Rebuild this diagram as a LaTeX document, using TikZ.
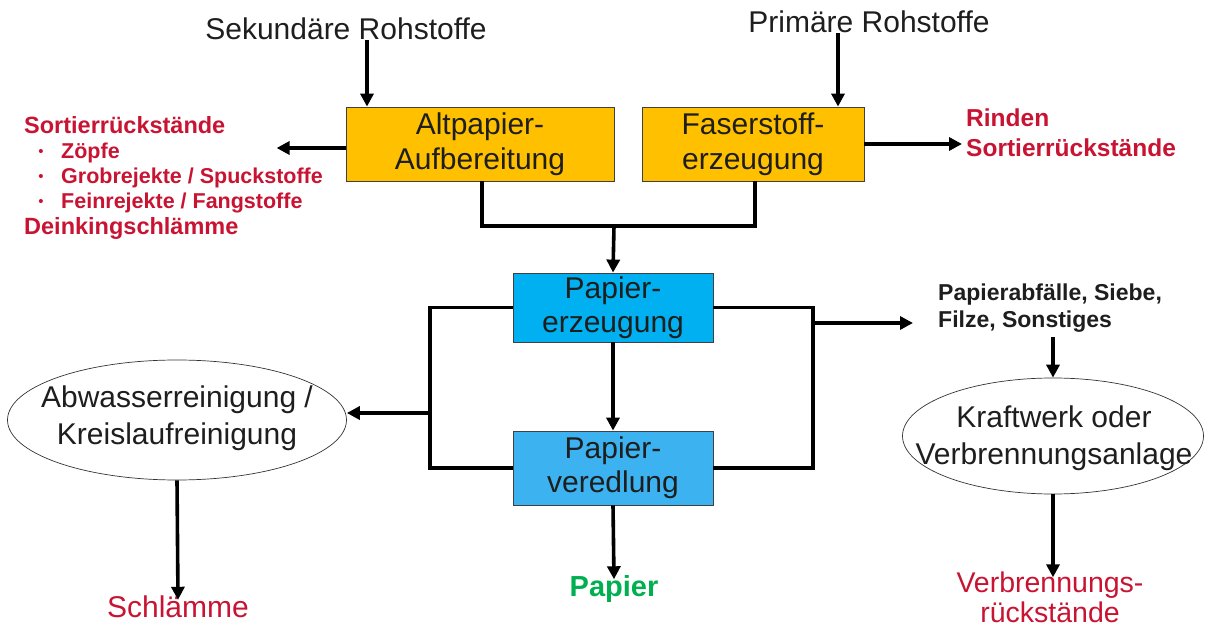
\documentclass[tikz,border=0pt]{standalone}
\usepackage{fontspec}
\setmainfont{Liberation Sans}
\usetikzlibrary{arrows.meta,shapes.geometric}
\definecolor{boxorange}{RGB}{255,192,0}
\definecolor{boxblue}{RGB}{0,176,240}
\definecolor{boxblueb}{RGB}{60,178,240}
\definecolor{redtxt}{RGB}{200,20,50}
\definecolor{greentxt}{RGB}{0,176,80}
\definecolor{txt}{RGB}{30,30,30}
\begin{document}
\begin{tikzpicture}[x=1pt,y=-1pt,
  conn/.style={line width=3.6pt},
  arr/.style={conn,-{Triangle[length=13pt,width=13pt]}},
  procbox/.style={draw=black!75,line width=0.8pt,align=center,inner sep=0pt,text=txt,
    font=\fontsize{30}{35}\selectfont},
  ybox/.style={procbox,fill=boxorange,minimum height=74pt},
  bbox/.style={procbox,fill=boxblue,minimum width=200pt,font=\fontsize{30}{34}\selectfont},
  ell/.style={ellipse,draw=black!80,line width=0.7pt,inner sep=0pt},
  elltext/.style={align=center,text=txt,inner sep=0pt,font=\fontsize{30}{37}\selectfont},
  big/.style={font=\fontsize{30}{34}\selectfont,text=txt,inner sep=0pt},
  redbold/.style={font=\fontsize{23.5}{28}\selectfont\bfseries,text=redtxt,inner sep=0pt,anchor=west},
  redsub/.style={font=\fontsize{21.5}{25}\selectfont\bfseries,text=redtxt,inner sep=0pt,anchor=west},
  dot/.style={font=\fontsize{15}{16}\selectfont,text=redtxt,inner sep=0pt}
]
\useasboundingbox (0,0) rectangle (1208,628);

% top sources
\node[big] (sek) at (346,29) {Sekundäre Rohstoffe};
\node[big] (prim) at (869,22) {Primäre Rohstoffe};

% orange boxes
\node[ybox,minimum width=268pt] (alt) at (480,144) {Altpapier-\\Aufbereitung};
\node[ybox,minimum width=222pt] (fas) at (753,144) {Faserstoff-\\erzeugung};

% blue boxes
\node[bbox,minimum height=69pt] (perz) at (613,307.5) {Papier-\\erzeugung};
\node[bbox,fill=boxblueb,minimum height=74pt] (pver) at (613,468) {Papier-\\veredlung};

% ellipses
\node[ell,minimum width=339pt,minimum height=120pt] (abw) at (177,420) {};
\node[elltext] (abwt) at (177,418) {Abwasserreinigung /\\Kreislaufreinigung};
\node[ell,minimum width=301pt,minimum height=116pt] (kw) at (1053,436) {};
\node[elltext] (kwt) at (1054,438) {Kraftwerk oder\\Verbrennungsanlage};

% left red list
\node[redbold] (sr1) at (24,125) {Sortierrückstände};
\node[dot] (b1) at (41,153) {\textbullet};
\node[redsub] (zo) at (61,153) {Zöpfe};
\node[dot] (b2) at (41,178) {\textbullet};
\node[redsub] (gr) at (61,178) {Grobrejekte / Spuckstoffe};
\node[dot] (b3) at (41,203) {\textbullet};
\node[redsub] (fe) at (61,203) {Feinrejekte / Fangstoffe};
\node[redbold] (de) at (24,228) {Deinkingschlämme};

% right red text
\node[redbold,align=left,font=\fontsize{24.5}{30}\selectfont\bfseries] (rs) at (966,133) {Rinden\\Sortierrückstände};

% waste text
\node[font=\fontsize{23}{27}\selectfont\bfseries,text=txt,align=left,anchor=west,inner sep=0pt] (pa) at (938,308) {Papierabfälle, Siebe,\\Filze, Sonstiges};

% outputs
\node[font=\fontsize{29}{30}\selectfont\bfseries,text=greentxt,inner sep=0pt] (pap) at (614,589) {Papier};
\node[font=\fontsize{30}{31}\selectfont,text=redtxt,inner sep=0pt] (schl) at (178,607) {Schlämme};
\node[font=\fontsize{28.5}{30}\selectfont,text=redtxt,inner sep=0pt,align=center] (vr) at (1050,597) {Verbrennungs-\\rückstände};

% connectors
\draw[arr] ([xshift=21pt]sek.south) -- ([xshift=21pt]sek.south |- alt.north);
\draw[arr] ([xshift=-31pt]prim.south) -- ([xshift=-31pt]prim.south |- fas.north);
\draw[arr] ([yshift=-4pt]alt.west) -- ++(-69,0);
\draw[arr] (fas.east) -- ([xshift=-4pt]fas.east -| rs.west);

\coordinate (j) at (614,226);
\draw[conn] ([xshift=2pt]alt.south) |- (j) -| ([xshift=2pt]fas.south);
\draw[conn] ([xshift=2pt]alt.south |- j) -- ([xshift=2pt]fas.south |- j);
\draw[arr] (j) -- (perz.north);

\draw[arr] (perz.south) -- (pver.north);
\coordinate (lj) at (430,413);
\coordinate (rj) at (813,323);
\draw[conn] (perz.west) -- (perz.west -| lj) -- (pver.west -| lj) -- (pver.west);
\draw[conn] (perz.east) -- (perz.east -| rj) -- (pver.east -| rj) -- (pver.east);
\draw[arr] (lj) -- (lj -| abw.east);
\draw[arr] (rj) -- ([xshift=-25pt]rj -| pa.west);

\draw[arr] (pver.south) -- ([yshift=-4pt]pap.north);
\draw[arr] (abw.south) -- ([yshift=-4pt]schl.north);
\draw[arr] (kw.north |- pa.south) ++(0,5) -- (kw.north);
\draw[arr] (kw.south) -- ([yshift=-6pt]vr.north -| kw.south);
\end{tikzpicture}
\end{document}
